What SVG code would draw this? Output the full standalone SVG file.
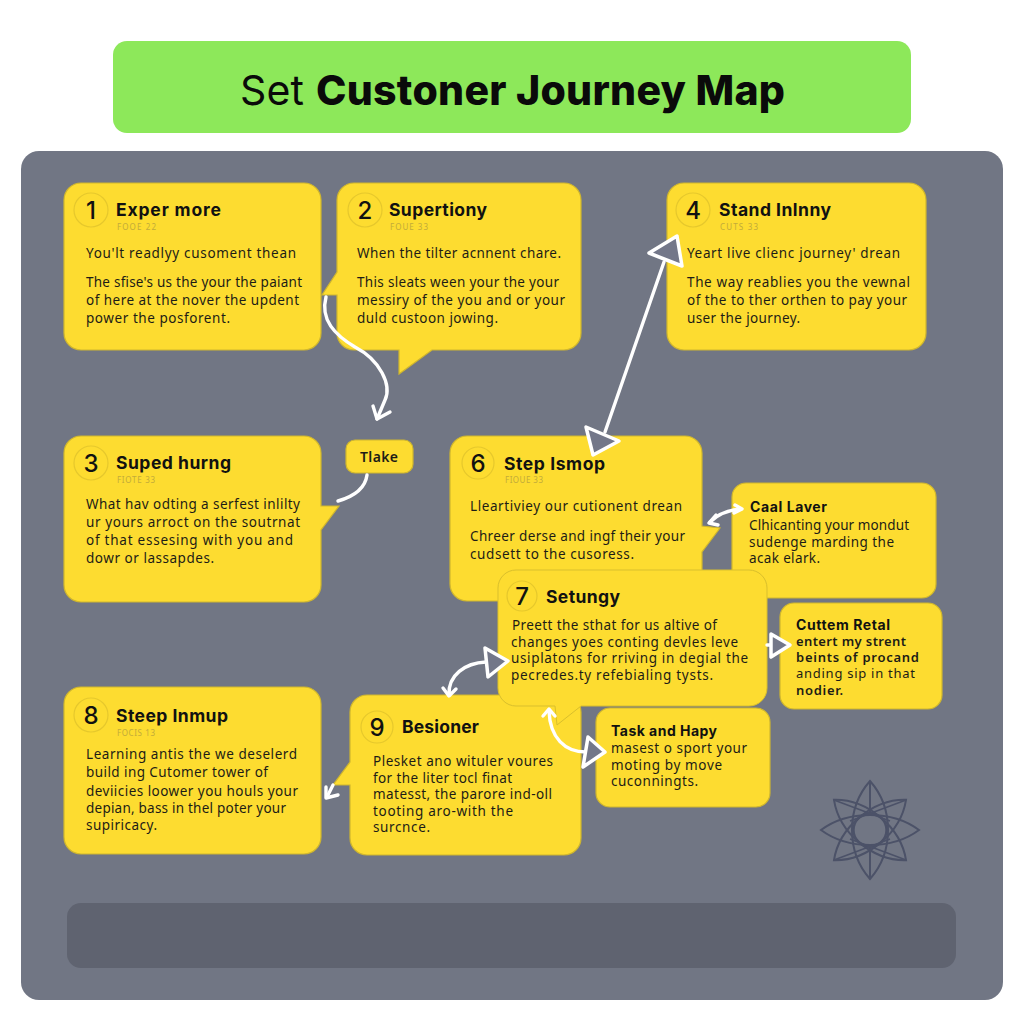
<svg xmlns="http://www.w3.org/2000/svg" width="1024" height="1024" viewBox="0 0 1024 1024">
<defs>
<style>
text{font-family:"Noto Sans","Liberation Sans",sans-serif;fill:#1d1c16}
.card{fill:#fddc30;stroke:#cfb62e;stroke-width:1.2}
.thin{fill:#fddc30;stroke:#d9bf2c;stroke-width:1}
.ring{fill:none;stroke:#e6c82c;stroke-width:1.2}
.num{font-family:Inter,"Liberation Sans",sans-serif;font-size:24px;font-weight:500;text-anchor:middle;fill:#111}
.ttl{font-family:Inter,"Liberation Sans",sans-serif;font-size:17.5px;font-weight:700;fill:#111}
.ttl2{font-family:Inter,"Liberation Sans",sans-serif;font-size:14px;font-weight:700;fill:#111}
.sm{font-size:8px;fill:#c2ab3a}
.b{font-size:13.5px}
.m{font-size:13px;font-weight:600}
.c{font-size:13px}
.wire{fill:none;stroke:#fff;stroke-width:3.4;stroke-linecap:round;stroke-linejoin:round}
.tri{fill:#737789;stroke:#fff;stroke-width:3.5;stroke-linejoin:round}
.star{fill:none;stroke:#4c5268;stroke-width:2}
.head{font-family:Inter,"Liberation Sans",sans-serif;font-size:41px;fill:#0a0a0a}
</style>
</defs>
<rect width="1024" height="1024" fill="#fff"/>
<g id="title"><rect x="113" y="41" width="798" height="92" rx="14" fill="#8de85a"/>
<text class="head" x="240" y="105" textLength="64">Set</text>
<text class="head" x="316" y="105" font-weight="800" textLength="469">Custoner Journey Map</text></g>
<rect id="panel" x="21" y="151" width="982" height="849" rx="18" fill="#717684"/>
<rect id="bar" x="67" y="903" width="889" height="65" rx="14" fill="#5f6370"/>

<g id="node1"><rect class="card" x="64" y="183" width="257" height="167" rx="17"/><circle class="ring" cx="91" cy="210" r="17"/><text class="num" x="91" y="219">1</text>
<text class="ttl" x="116" y="216" textLength="105">Exper more</text><text class="sm" x="117" y="230" textLength="39">FOOE 22</text>
<text class="b" x="86" y="258" textLength="210">You'lt readlyy cusoment thean</text><text class="b" x="86" y="287" textLength="216">The sfise's us the your the paiant</text><text class="b" x="86" y="305" textLength="213">of here at the nover the updent</text><text class="b" x="86" y="323" textLength="144">power the posforent.</text></g>

<g id="node2"><path class="card" d="M354 183H564A17 17 0 0 1 581 200V333A17 17 0 0 1 564 350H432L399 374V350H354A17 17 0 0 1 337 333V295H322L337 272V200A17 17 0 0 1 354 183Z"/><circle class="ring" cx="365" cy="210" r="17"/><text class="num" x="365" y="219">2</text>
<text class="ttl" x="389" y="216" textLength="98">Supertiony</text><text class="sm" x="390" y="230" textLength="38">FOUE 33</text>
<text class="b" x="357" y="258" textLength="204">When the tilter acnnent chare.</text><text class="b" x="357" y="287" textLength="202">This sleats ween your the your</text><text class="b" x="357" y="305" textLength="208">messiry of the you and or your</text><text class="b" x="357" y="323" textLength="141">duld custoon jowing.</text></g>

<g id="node4"><rect class="card" x="667" y="183" width="259" height="167" rx="17"/><circle class="ring" cx="693" cy="210" r="17"/><text class="num" x="693" y="219">4</text>
<text class="ttl" x="719" y="216" textLength="112">Stand Inlnny</text><text class="sm" x="720" y="230" textLength="38">CUTS 33</text>
<text class="b" x="687" y="258" textLength="213">Yeart live clienc journey' drean</text><text class="b" x="687" y="287" textLength="223">The way reablies you the vewnal</text><text class="b" x="687" y="305" textLength="220">of the to ther orthen to pay your</text><text class="b" x="687" y="323" textLength="113">user the journey.</text></g>

<g id="node3"><path class="card" d="M81 436H304A17 17 0 0 1 321 453V506H339L321 530V585A17 17 0 0 1 304 602H81A17 17 0 0 1 64 585V453A17 17 0 0 1 81 436Z"/><circle class="ring" cx="91" cy="463" r="17"/><text class="num" x="91" y="472">3</text>
<text class="ttl" x="116" y="469" textLength="115">Suped hurng</text><text class="sm" x="117" y="483" textLength="38">FIOTE 33</text>
<text class="b" x="86" y="509" textLength="214">What hav odting a serfest inlilty</text><text class="b" x="86" y="527" textLength="214">ur yours arroct on the soutrnat</text><text class="b" x="86" y="545" textLength="207">of that essesing with you and</text><text class="b" x="86" y="563" textLength="128">dowr or lassapdes.</text></g>

<g id="nodeTake"><rect class="card" x="346" y="440" width="67" height="33" rx="9"/><text x="360" y="462" font-size="14" font-weight="600" textLength="38">Tlake</text></g>

<g id="node6"><path class="card" d="M467 436H685A17 17 0 0 1 702 453V526L720 528L702 552V584A17 17 0 0 1 685 601H467A17 17 0 0 1 450 584V453A17 17 0 0 1 467 436Z"/><circle class="ring" cx="478" cy="463" r="16"/><text class="num" x="478" y="472">6</text>
<text class="ttl" x="504" y="470" textLength="101">Step Ismop</text><text class="sm" x="505" y="483" textLength="38">FIOUE 33</text>
<text class="b" x="470" y="511" textLength="212">Lleartiviey our cutionent drean</text><text class="b" x="470" y="541" textLength="215">Chreer derse and ingf their your</text><text class="b" x="470" y="559" textLength="164">cudsett to the cusoress.</text></g>

<g id="nodeCaal"><rect class="card" x="732" y="483" width="204" height="115" rx="14"/><text class="ttl2" x="750" y="512" textLength="77">Caal Laver</text>
<text class="b" x="749" y="530" textLength="160">Clhicanting your mondut</text><text class="b" x="749" y="547" textLength="145">sudenge marding the</text><text class="b" x="749" y="563" textLength="71">acak elark.</text></g>

<g id="nodeCuttem"><rect class="card" x="780" y="603" width="162" height="106" rx="14"/><text class="ttl2" x="796" y="630" textLength="94">Cuttem Retal</text>
<text class="m" x="796" y="646" textLength="110">entert my strent</text><text class="m" x="796" y="662" textLength="123">beints of procand</text><text class="c" x="796" y="678" textLength="119">anding sip in that</text><text class="m" x="796" y="695" textLength="47">nodier.</text></g>

<g id="node8"><rect class="card" x="64" y="687" width="257" height="167" rx="17"/><circle class="ring" cx="91" cy="715" r="17"/><text class="num" x="91" y="724">8</text>
<text class="ttl" x="116" y="722" textLength="112">Steep Inmup</text><text class="sm" x="117" y="736" textLength="38">FOCIS 13</text>
<text class="b" x="86" y="759" textLength="211">Learning antis the we deselerd</text><text class="b" x="86" y="777" textLength="182">build ing Cutomer tower of</text><text class="b" x="86" y="796" textLength="212">deviicies loower you houls your</text><text class="b" x="86" y="813" textLength="200">depian, bass in thel poter your</text><text class="b" x="86" y="830" textLength="71">supiricacy.</text></g>

<g id="node9"><path class="card" d="M367 695H564A17 17 0 0 1 581 712V838A17 17 0 0 1 564 855H367A17 17 0 0 1 350 838V785H333L350 762V712A17 17 0 0 1 367 695Z"/><circle class="ring" cx="377" cy="727" r="16"/><text class="num" x="377" y="736">9</text>
<text class="ttl" x="402" y="733" textLength="77">Besioner</text>
<text class="b" x="373" y="766" textLength="180">Plesket ano wituler voures</text><text class="b" x="373" y="783" textLength="139">for the liter tocl finat</text><text class="b" x="373" y="799" textLength="179">matesst, the parore ind-oll</text><text class="b" x="373" y="816" textLength="140">tooting aro-with the</text><text class="b" x="373" y="832" textLength="57">surcnce.</text></g>

<g id="node7"><path class="thin" d="M516 570H749A18 18 0 0 1 767 588V688A18 18 0 0 1 749 706H581L557 725L555 706H516A18 18 0 0 1 498 688V588A18 18 0 0 1 516 570Z"/><circle class="ring" cx="522" cy="596" r="15"/><text class="num" x="522" y="605">7</text>
<text class="ttl" x="546" y="603" textLength="74">Setungy</text>
<text class="b" x="512" y="630" textLength="205">Preett the sthat for us altive of</text><text class="b" x="511" y="647" textLength="227">changes yoes conting devles leve</text><text class="b" x="511" y="663" textLength="237">usiplatons for rriving in degial the</text><text class="b" x="511" y="680" textLength="202">pecredes.ty refebialing tysts.</text></g>

<g id="nodeTask"><rect class="card" x="596" y="708" width="174" height="99" rx="14"/><text class="ttl2" x="611" y="736" textLength="106">Task and Hapy</text>
<text class="b" x="611" y="753" textLength="136">masest o sport your</text><text class="b" x="611" y="770" textLength="111">moting by move</text><text class="b" x="611" y="786" textLength="87">cuconningts.</text></g>

<g id="emblem" class="star" transform="translate(870 830)">
<circle r="16.5" stroke-width="2.4"/>
<path d="M0 -49C24 -22 24 22 0 49C-24 22 -24 -22 0 -49ZM0 -49V-17M0 49V17"/>
<path d="M-49 0C-22 20 22 20 49 0C22 -20 -22 -20 -49 0Z"/>
<path d="M0 -47C22 -22 22 22 0 47C-22 22 -22 -22 0 -47Z" transform="rotate(50)"/>
<path d="M0 -47C22 -22 22 22 0 47C-22 22 -22 -22 0 -47Z" transform="rotate(-50)"/>
<path stroke-width="1.5" d="M-36 -30L20 -9M36 -30L-20 -9M-36 30L20 9M36 30L-20 9"/>
</g>

<g id="connectors">
<path class="wire" d="M326 297C320 320 335 335 355 347C380 360 392 385 385 400L377 419"/>
<path class="wire" d="M373 406L377 419L390 412"/>
<path class="wire" d="M367 475C365 490 352 497 338 501"/>
<path class="wire" d="M664 262L605 432"/>
<polygon class="tri" points="649,253 677,236 682,266"/>
<polygon class="tri" points="586,427 619,441 593,455"/>
<path class="wire" d="M710 522C718 514 728 510 741 509"/>
<path class="wire" d="M716 515L709 523L718 525M735 505L742 509L734 513"/>
<path class="wire" d="M767 645H772"/>
<polygon class="tri" points="771,634 790,645 771,657"/>
<path class="wire" d="M486 662C465 663 448 675 449 695"/>
<path class="wire" d="M443 688L449 696L456 689"/>
<polygon class="tri" points="485,648 508,661 488,677"/>
<path class="wire" d="M586 752C565 752 550 738 549 711"/>
<path class="wire" d="M543 716L549 709L555 716"/>
<polygon class="tri" points="588,737 605,752 583,767"/>
<path class="wire" d="M333 785L327 797"/>
<path class="wire" d="M326 787L326 798L338 795"/>
</g>
</svg>
